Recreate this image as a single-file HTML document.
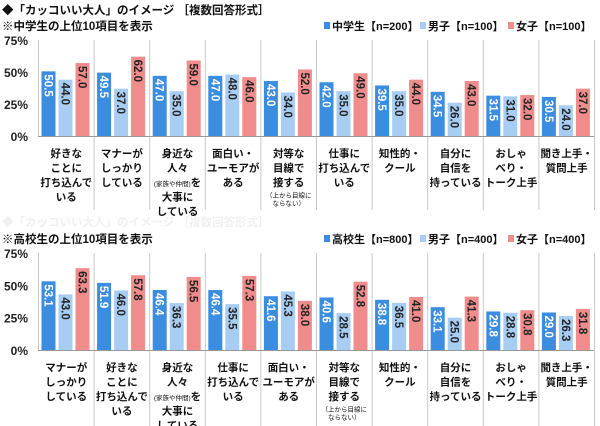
<!DOCTYPE html>
<html><head><meta charset="utf-8"><style>
body{margin:0;background:#fff}
svg{display:block;font-family:"Liberation Sans","Noto Sans CJK JP",sans-serif}
</style></head><body>
<svg id="s" width="600" height="426" viewBox="0 0 600 426" xmlns="http://www.w3.org/2000/svg">
<text x="2" y="14" font-size="11.5" font-weight="bold" fill="#111">◆「カッコいい大人」のイメージ ［複数回答形式］</text>
<text x="2" y="30" font-size="11.5" font-weight="bold" fill="#111">※中学生の上位10項目を表示</text>
<text x="2" y="226" font-size="11.5" font-weight="bold" fill="#f0f0f0">◆「カッコいい大人」のイメージ ［複数回答形式］</text>
<text x="2" y="243" font-size="11.5" font-weight="bold" fill="#111">※高校生の上位10項目を表示</text>
</svg>
<script>
var s=document.getElementById('s'),NS='http://www.w3.org/2000/svg';
function el(t,a,txt){var e=document.createElementNS(NS,t);for(var k in a)e.setAttribute(k,a[k]);if(txt!=null)e.textContent=txt;s.appendChild(e);return e;}
var C=['#3b8de0','#a8cdf3','#f08c8c'],TC=['#fff','#222','#222'];
function legend(y,labels){var xs=[324,420,508];for(var i=0;i<3;i++){el('rect',{x:xs[i],y:y-8,width:6,height:7,fill:C[i]});el('text',{x:xs[i]+8,y:y,'font-size':11,'font-weight':'bold',fill:'#111'},labels[i]);}}
function chart(top,base,data,cats,labY){
 var k=(base-top)/75;
 [[75,'75%'],[50,'50%'],[25,'25%'],[0,'0%']].forEach(function(t){el('text',{x:28,y:base-t[0]*k+5,'font-size':12,'font-weight':'bold','text-anchor':'end',fill:'#222'},t[1]);});
 for(var i=0;i<=10;i++){var x=38.5+55.6*i;el('line',{x1:x,y1:top,x2:x,y2:i==0?base:(top==40?210:426),stroke:'#c8c8c8','stroke-width':1});}
 el('line',{x1:38,y1:base+0.5,x2:594,y2:base+0.5,stroke:'#999','stroke-width':1});
 for(var i=0;i<10;i++){var x0=38.5+55.6*i;
  for(var j=0;j<3;j++){var v=data[i][j],h=v*k,bx=x0+3+j*17;
   el('rect',{x:bx,y:base-h,width:14,height:h,fill:C[j]});
   el('text',{x:0,y:0,'font-size':11.5,'font-weight':'bold',fill:TC[j],transform:'translate('+(bx+3)+','+(base-h+3)+') rotate(90)'},v.toFixed(1));}
  var y=labY,cx=x0+27.8;
  cats[i].forEach(function(l){var sm=l[0]=='~';var t=sm?l.slice(1):l;
   if(sm){y+=-3;el('text',{x:cx,y:y,'font-size':6.5,'text-anchor':'middle',fill:'#111'},t);y+=11;}
   else if(l.indexOf('(')==0){var e=el('text',{x:cx,y:y,'text-anchor':'middle',fill:'#111','font-weight':'bold','font-size':10.5});var a=document.createElementNS(NS,'tspan');a.setAttribute('font-size','6.5');a.setAttribute('font-weight','normal');a.textContent=t.slice(0,-1);e.appendChild(a);var b=document.createElementNS(NS,'tspan');b.textContent=t.slice(-1);e.appendChild(b);y+=14.5;}
   else{el('text',{x:cx,y:y,'font-size':10.5,'font-weight':'bold','text-anchor':'middle',fill:'#111'},t);y+=14.5;}});
 }}
legend(30,['中学生【n=200】','男子【n=100】','女子【n=100】']);
legend(243,['高校生【n=800】','男子【n=400】','女子【n=400】']);
var L={a:['好きな','ことに','打ち込んで','いる'],b:['マナーが','しっかり','している'],c:['身近な','人々','(家族や仲間)を','大事に','している'],d:['面白い・','ユーモアが','ある'],e:['対等な','目線で','接する','~（上から目線に','~ならない）'],f:['仕事に','打ち込んで','いる'],g:['知性的・','クール'],h:['自分に','自信を','持っている'],i:['おしゃ','べり・','トーク上手'],j:['聞き上手・','質問上手']};
chart(40,136,[[50.5,44,57],[49.5,37,62],[47,35,59],[47,48,46],[43,34,52],[42,35,49],[39.5,35,44],[34.5,26,43],[31.5,31,32],[30.5,24,37]],
 [L.a,L.b,L.c,L.d,L.e,L.f,L.g,L.h,L.i,L.j],157);
chart(253,350,[[53.1,43,63.3],[51.9,46,57.8],[46.4,36.3,56.5],[46.4,35.5,57.3],[41.6,45.3,38],[40.6,28.5,52.8],[38.8,36.5,41],[33.1,25,41.3],[29.8,28.8,30.8],[29,26.3,31.8]],
 [L.b,L.a,L.c,L.f,L.d,L.e,L.g,L.h,L.i,L.j],371);
</script>
</body></html>
